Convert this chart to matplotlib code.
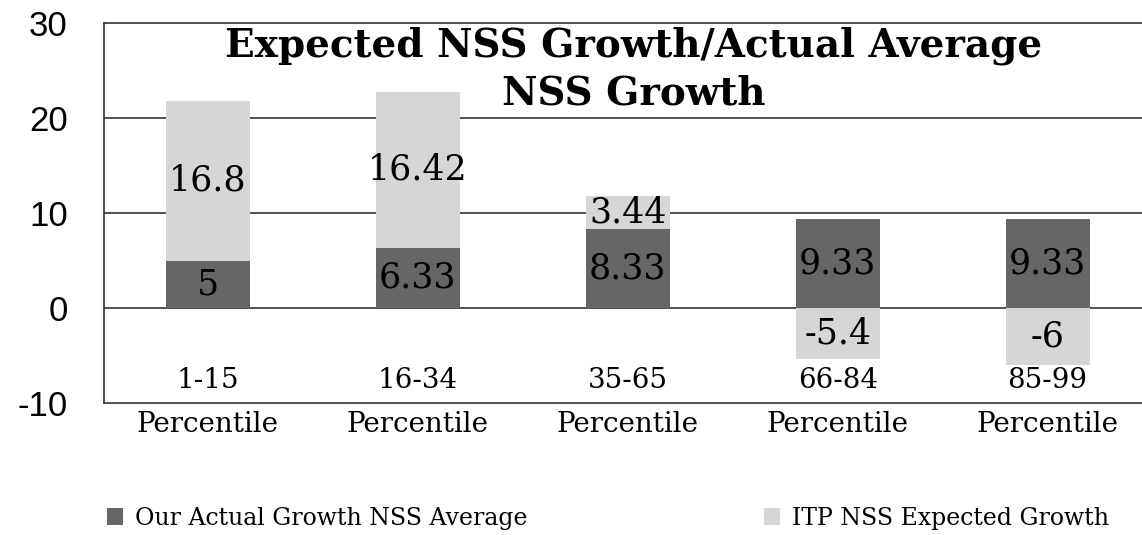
import matplotlib.pyplot as plt
import numpy as np

plt.rcParams['axes.unicode_minus'] = False

categories = ["1-15", "16-34", "35-65", "66-84", "85-99"]
cat_suffix = "Percentile"
actual = [5, 6.33, 8.33, 9.33, 9.33]
expected = [16.8, 16.42, 3.44, -5.4, -6]
actual_labels = ["5", "6.33", "8.33", "9.33", "9.33"]
expected_labels = ["16.8", "16.42", "3.44", "-5.4", "-6"]

serif = ['DejaVu Serif']
fig = plt.figure(figsize=(11.42, 5.35), dpi=100)
ax = fig.add_axes([104 / 1142, 1 - 403 / 535, 1 - 104 / 1142, (403 - 23) / 535])

x = np.arange(len(categories))
# expected stacks on top of the actual bar, or goes below zero when negative
bottoms = [a if e >= 0 else 0 for a, e in zip(actual, expected)]
b1 = ax.bar(x, actual, width=0.4, color='#666666', label='Our Actual Growth NSS Average', zorder=3)
b2 = ax.bar(x, expected, width=0.4, bottom=bottoms, color='#d6d6d6',
            label='ITP NSS Expected Growth', zorder=3)

ax.bar_label(b1, labels=actual_labels, label_type='center', fontsize=25, family=serif)
ax.bar_label(b2, labels=expected_labels, label_type='center', fontsize=25, family=serif)

ax.set_ylim(-10, 30)
ax.set_xlim(-0.495, 4.45)
ax.set_yticks([-10, 0, 10, 20, 30])
ax.tick_params(axis='y', labelsize=25, length=0, pad=26)
for t in ax.get_yticklabels():
    t.set_family('Liberation Sans')
for yv in [0, 10, 20]:
    ax.axhline(yv, color='#333333', lw=1.2, zorder=1)

# range part of the category sits inside the plot, "Percentile" below the axis
for xi, c in zip(x, categories):
    ax.text(xi, -7.6, c, ha='center', va='center', fontsize=20, family=serif)
ax.set_xticks(x)
ax.set_xticklabels([cat_suffix] * len(x), fontsize=20, family=serif)
ax.tick_params(axis='x', length=0, pad=6)

ax.spines['right'].set_visible(False)
for s in ['left', 'top', 'bottom']:
    ax.spines[s].set_color('#333333')
    ax.spines[s].set_linewidth(1.2)

ax.text(0.51, 0.99, "Expected NSS Growth/Actual Average\nNSS Growth", transform=ax.transAxes,
        ha='center', va='top', fontsize=28, fontweight='bold', family=serif,
        linespacing=1.3, zorder=5)

fig.legend(handles=[b1, b2], loc='lower left', bbox_to_anchor=(0.075, -0.03), ncol=2,
           frameon=False, prop={'family': serif, 'size': 17},
           handlelength=0.7, handleheight=0.7, columnspacing=10, handletextpad=0.5)

fig.savefig('out.png', dpi=100)
